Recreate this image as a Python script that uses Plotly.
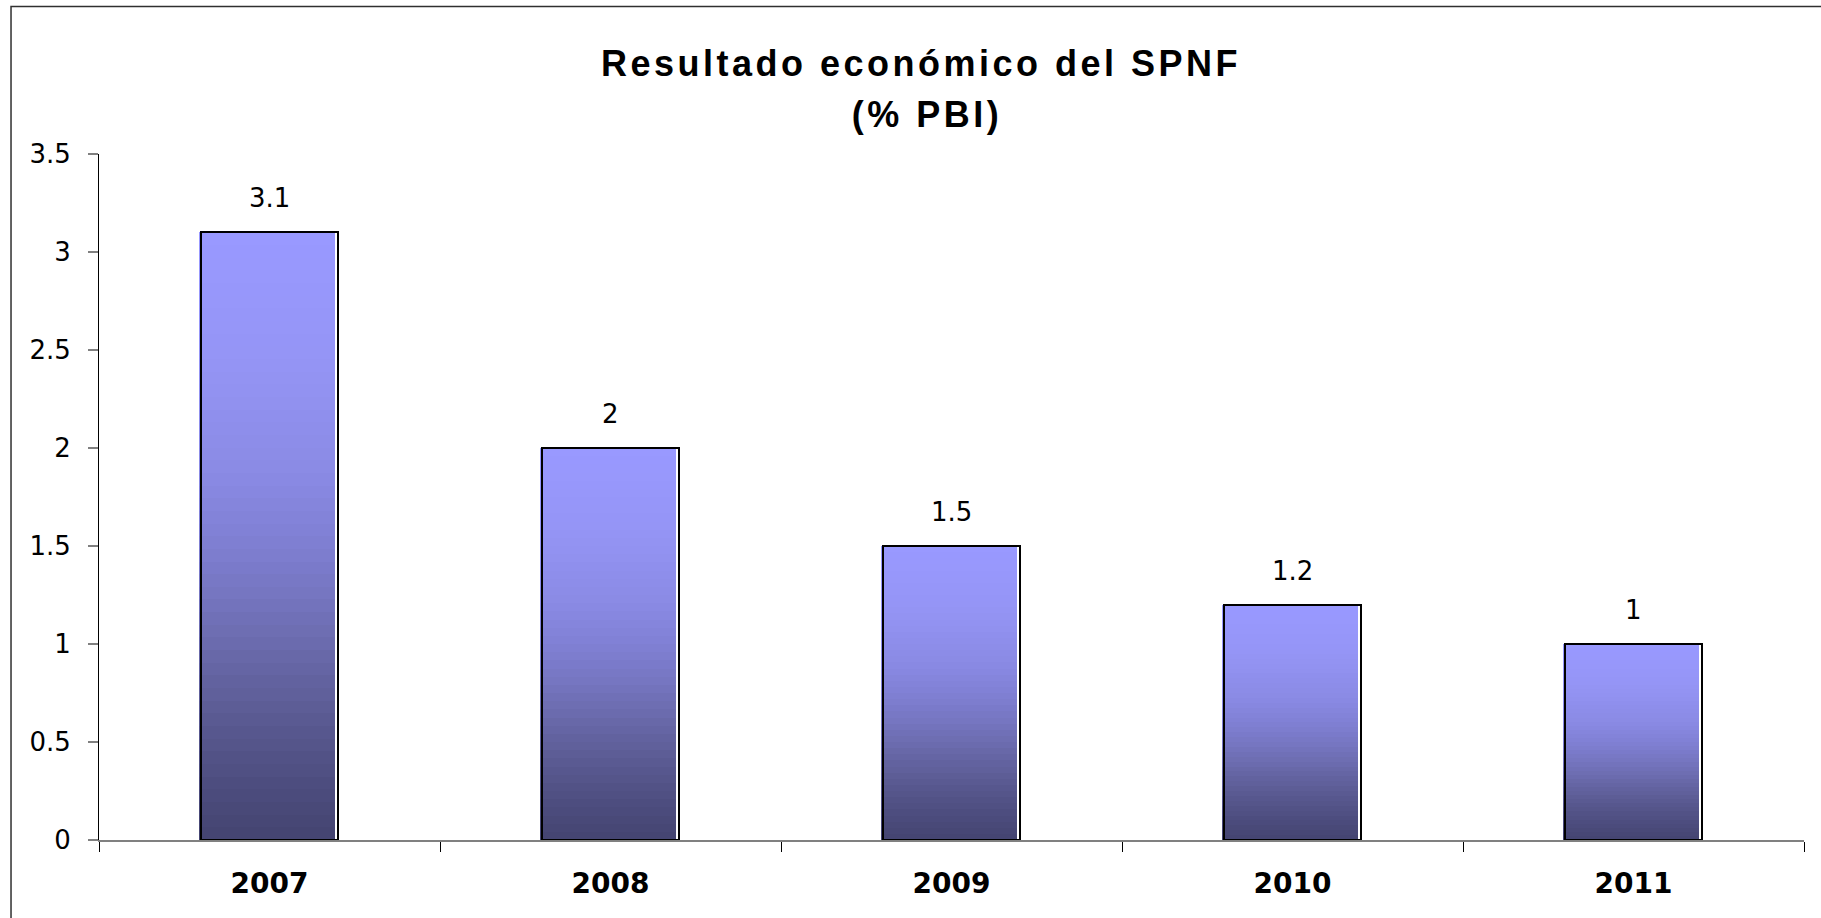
import plotly.graph_objects as go

years = ["2007", "2008", "2009", "2010", "2011"]
values = [3.1, 2.0, 1.5, 1.2, 1.0]
labels = ["3.1", "2", "1.5", "1.2", "1"]
y_ticks = [0, 0.5, 1, 1.5, 2, 2.5, 3, 3.5]
y_ticktext = ["0", "0.5", "1", "1.5", "2", "2.5", "3", "3.5"]

title_line1 = "Resultado económico del SPNF"
title_line2 = "(% PBI)"

# gradient stops (fraction from bar top, rgb)
grad_stops = [
    (0.0, (153, 153, 255)),
    (0.2, (149, 149, 246)),
    (0.4, (138, 138, 228)),
    (0.5, (128, 128, 212)),
    (0.6, (117, 117, 192)),
    (0.7, (104, 104, 168)),
    (0.8, (90, 90, 146)),
    (0.9, (78, 78, 128)),
    (1.0, (68, 68, 112)),
]


def grad_color(t):
    for (t0, c0), (t1, c1) in zip(grad_stops[:-1], grad_stops[1:]):
        if t0 <= t <= t1:
            f = (t - t0) / (t1 - t0) if t1 > t0 else 0
            c = [round(a + (b - a) * f) for a, b in zip(c0, c1)]
            return f"rgb({c[0]},{c[1]},{c[2]})"
    c = grad_stops[-1][1]
    return f"rgb({c[0]},{c[1]},{c[2]})"


N_SLICES = 48
FONT = "DejaVu Sans, Arial, sans-serif"
TITLE_FONT = "Liberation Sans, Arial, sans-serif"
BAR_W = 0.4
FILL_SHIFT = 0.008  # fill drawn slightly left of its outline, as in the reference

fig = go.Figure()

# gradient fill: each bar split into equal stacked slices of its own height
for k in range(N_SLICES):
    t_from_top = 1 - (k + 0.5) / N_SLICES
    fig.add_trace(go.Bar(
        x=years,
        y=[v / N_SLICES for v in values],
        width=BAR_W,
        offset=-BAR_W / 2 - FILL_SHIFT,
        marker=dict(color=grad_color(t_from_top), line=dict(width=0)),
        hoverinfo="skip",
        showlegend=False,
    ))

# outline bar on overlaid axis
fig.add_trace(go.Bar(
    x=years,
    y=values,
    width=BAR_W,
    offset=-BAR_W / 2,
    xaxis="x2",
    yaxis="y",
    marker=dict(color="rgba(0,0,0,0)", line=dict(color="black", width=2)),
    hoverinfo="skip",
    showlegend=False,
))

annotations = [
    dict(
        x=0.482, y=1.1312, xref="paper", yref="paper", text=f"<b>{title_line1}</b>",
        showarrow=False, xanchor="center", yanchor="middle",
        font=dict(family=TITLE_FONT, size=36, color="black"),
    ),
    dict(
        x=0.4855, y=1.0569, xref="paper", yref="paper", text=f"<b>{title_line2}</b>",
        showarrow=False, xanchor="center", yanchor="middle",
        font=dict(family=TITLE_FONT, size=36, color="black"),
    ),
]
for i, (v, lab) in enumerate(zip(values, labels)):
    annotations.append(dict(
        x=i, y=v, xref="x", yref="y", text=lab, showarrow=False,
        yanchor="bottom", yshift=17,
        font=dict(family=FONT, size=26, color="black"),
    ))

fig.update_layout(
    width=1821,
    height=918,
    margin=dict(l=99, r=17, t=154, b=78, autoexpand=False),
    paper_bgcolor="white",
    plot_bgcolor="white",
    barmode="stack",
    bargap=0.6,
    showlegend=False,
    annotations=annotations,
    font=dict(family=FONT, color="black"),
    xaxis=dict(
        type="category",
        categoryorder="array",
        categoryarray=years,
        range=[-0.5, 4.5],
        automargin=False,
        showgrid=False,
        zeroline=False,
        showline=True,
        linecolor="#808080",
        linewidth=1.5,
        ticks="outside",
        tickson="boundaries",
        ticklen=10,
        tickcolor="black",
        tickwidth=1,
        ticklabelstandoff=18,
        tickfont=dict(family=FONT, size=28, color="black", weight="bold"),
        fixedrange=True,
    ),
    xaxis2=dict(
        type="category",
        categoryorder="array",
        categoryarray=years,
        range=[-0.5, 4.5],
        overlaying="x",
        visible=False,
        automargin=False,
        fixedrange=True,
    ),
    yaxis=dict(
        range=[0, 3.5],
        tickmode="array",
        tickvals=y_ticks,
        ticktext=y_ticktext,
        automargin=False,
        showgrid=False,
        zeroline=False,
        showline=True,
        linecolor="black",
        linewidth=1,
        ticks="outside",
        ticklen=10,
        tickcolor="#808080",
        tickwidth=1.5,
        ticklabelstandoff=12,
        tickfont=dict(family=FONT, size=26, color="black"),
        fixedrange=True,
    ),
    shapes=[dict(
        type="rect", xref="paper", yref="paper",
        x0=-0.0516, x1=1.05, y0=-0.3, y1=1.2150,
        line=dict(color="#303030", width=1.5),
        fillcolor="rgba(0,0,0,0)", layer="below",
    )],
)

# page without body margin; the title in the reference is set with letter spacing
page_css = (
    "var s=document.createElement('style');"
    "s.textContent='html,body{margin:0;padding:0;overflow:hidden;}"
    " .annotation[data-index=\"0\"] text, .annotation[data-index=\"1\"] text"
    "{letter-spacing:3.5px;}';"
    "document.head.appendChild(s);"
)

fig.write_html("out.html", config={"displayModeBar": False}, post_script=page_css)
